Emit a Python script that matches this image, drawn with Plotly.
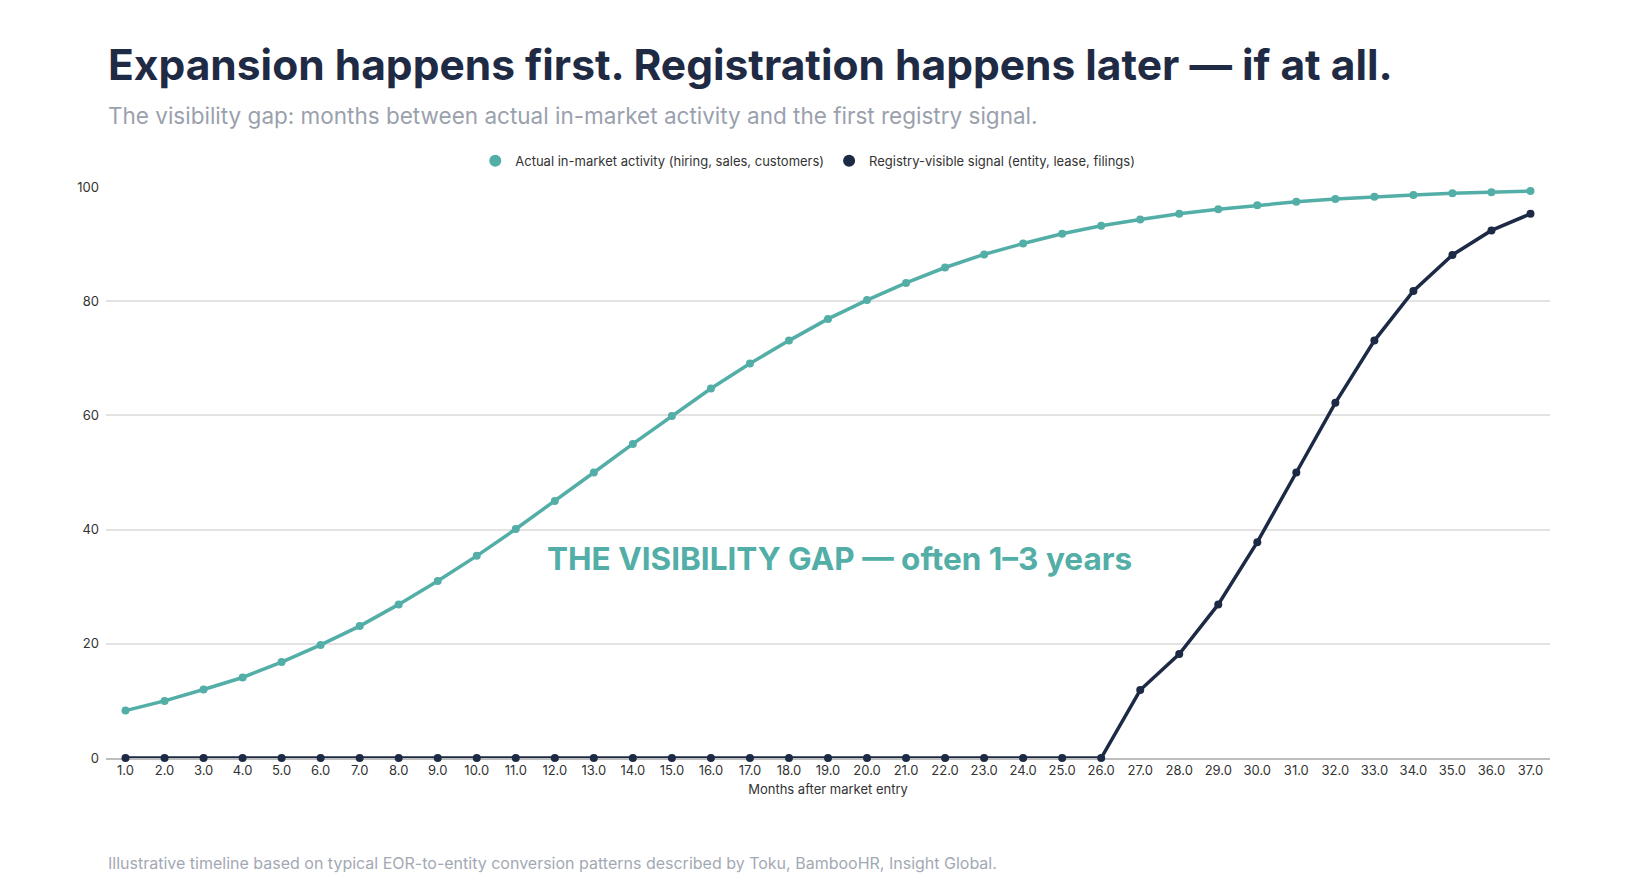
import plotly.graph_objects as go

months = list(range(1, 38))

actual_activity = [
    8.3, 10.0, 12.0, 14.1, 16.8, 19.8, 23.1, 26.9, 31.0, 35.4,
    40.1, 45.0, 50.0, 55.0, 59.9, 64.7, 69.1, 73.1, 76.9, 80.2,
    83.2, 85.9, 88.2, 90.1, 91.8, 93.2, 94.3, 95.3, 96.1, 96.8,
    97.4, 97.9, 98.3, 98.6, 98.9, 99.1, 99.3,
]

registry_signal = [
    0, 0, 0, 0, 0, 0, 0, 0, 0, 0,
    0, 0, 0, 0, 0, 0, 0, 0, 0, 0,
    0, 0, 0, 0, 0, 0, 11.9, 18.2, 26.9, 37.8,
    50.0, 62.2, 73.1, 81.8, 88.1, 92.4, 95.3,
]

series_names = [
    'Actual in-market activity (hiring, sales, customers)',
    'Registry-visible signal (entity, lease, filings)',
]

y_ticks = [0, 20, 40, 60, 80, 100]

TEAL = '#52aea6'
NAVY = '#1d2a45'
FONT = 'Inter'

fig = go.Figure()

for name, values, color in zip(series_names, [actual_activity, registry_signal], [TEAL, NAVY]):
    # line + dots on the plot, dot-only entry in the legend
    fig.add_trace(go.Scatter(
        x=months, y=values, mode='lines', name=name, legendgroup=name,
        showlegend=False, line=dict(color=color, width=3.5),
        cliponaxis=False,
    ))
    fig.add_trace(go.Scatter(
        x=months, y=values, mode='markers', name=name, legendgroup=name,
        marker=dict(color=color, size=8), cliponaxis=False,
    ))

annotations = [
    # title
    dict(xref='paper', yref='paper', x=0, y=1.2137, xanchor='left', yanchor='middle',
         text='<b>Expansion happens first. Registration happens later — if at all.</b>',
         font=dict(family=FONT, size=42.5, color='#1f2a44'), showarrow=False),
    # subtitle
    dict(xref='paper', yref='paper', x=0, y=1.125, xanchor='left', yanchor='middle',
         text='The visibility gap: months between actual in-market activity and the first registry signal.',
         font=dict(family=FONT, size=22.5, color='#9aa1ad'), showarrow=False),
    # gap label
    dict(xref='x', yref='y', x=19.3, y=35, xanchor='center', yanchor='middle',
         text='<b>THE VISIBILITY GAP — often 1–3 years</b>',
         font=dict(family=FONT, size=31.5, color=TEAL), showarrow=False),
    # source
    dict(xref='paper', yref='paper', x=0, y=-0.184, xanchor='left', yanchor='middle',
         text='Illustrative timeline based on typical EOR-to-entity conversion patterns described by Toku, BambooHR, Insight Global.',
         font=dict(family=FONT, size=16, color='#a3a9b4'), showarrow=False),
]

fig.update_layout(
    width=1642, height=896,
    margin=dict(l=98, r=100, t=179, b=146),
    plot_bgcolor='white', paper_bgcolor='white',
    font=dict(family=FONT, size=13, color='#333'),
    showlegend=True,
    legend=dict(orientation='h', x=0.486, y=1.046, xanchor='center', yanchor='middle',
                font=dict(family=FONT, size=13, color='#333'), itemsizing='constant'),
    annotations=annotations,
    xaxis=dict(
        range=[0.5, 37.5], tick0=1, dtick=1, tickformat='.1f',
        showgrid=False, zeroline=False, layer='below traces',
        showline=True, linecolor='#bdbdbd', linewidth=1.5,
        ticks='', tickfont=dict(size=13, color='#333'),
        title=dict(text='Months after market entry', font=dict(size=13, color='#333'), standoff=8),
    ),
    yaxis=dict(
        range=[0, 100], tickvals=y_ticks, layer='below traces',
        showgrid=True, gridcolor='#e3e3e3', gridwidth=1.5,
        zeroline=False, showline=False, ticks='', ticklabelstandoff=6,
        tickfont=dict(size=13, color='#333'),
    ),
)

fig.write_html('out.html')
